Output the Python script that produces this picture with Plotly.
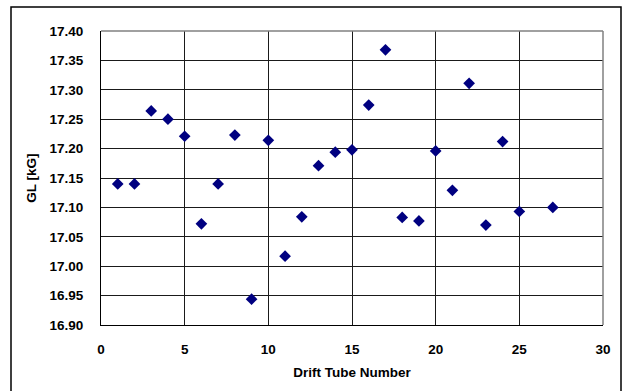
import plotly.graph_objects as go

tube_numbers = [1, 2, 3, 4, 5, 6, 7, 8, 9, 10, 11, 12, 13, 14, 15, 16, 17, 18, 19, 20, 21, 22, 23, 24, 25, 27]
gl_values = [17.140, 17.140, 17.264, 17.250, 17.221, 17.072, 17.140, 17.223, 16.944, 17.214,
             17.017, 17.084, 17.171, 17.194, 17.198, 17.274, 17.368, 17.083, 17.077, 17.196,
             17.129, 17.311, 17.070, 17.212, 17.093, 17.100]
x_ticks = [0, 5, 10, 15, 20, 25, 30]
y_ticks = [16.90, 16.95, 17.00, 17.05, 17.10, 17.15, 17.20, 17.25, 17.30, 17.35, 17.40]

font_family = "Liberation Sans, Arial, sans-serif"
fsize = 13.5

fig = go.Figure()
fig.add_trace(go.Scatter(
    x=tube_numbers, y=gl_values, mode="markers",
    marker=dict(symbol="diamond", size=9, color="#000080", line=dict(width=0)),
    showlegend=False,
))

fig.update_layout(
    width=623, height=391,
    margin=dict(l=101, r=20, t=31, b=66),
    paper_bgcolor="white", plot_bgcolor="white",
    font=dict(family=font_family, size=fsize, color="black"),
    xaxis=dict(
        range=[0, 30], tickvals=x_ticks, ticktext=[str(v) for v in x_ticks],
        showgrid=True, gridcolor="#1a1a1a", gridwidth=1,
        showline=True, linecolor="black", linewidth=1, mirror=False,
        zeroline=False, ticks="", ticklabelstandoff=12,
        tickfont=dict(family=font_family, size=fsize, color="black", weight="bold"),
        title=dict(text="<b>Drift Tube Number</b>", standoff=11,
                   font=dict(family=font_family, size=fsize, color="black")),
    ),
    yaxis=dict(
        range=[16.90, 17.40], tickvals=y_ticks, ticktext=[f"{v:.2f}" for v in y_ticks],
        showgrid=True, gridcolor="#1a1a1a", gridwidth=1,
        showline=True, linecolor="black", linewidth=1,
        zeroline=False, ticks="", ticklabelstandoff=14,
        tickfont=dict(family=font_family, size=fsize, color="black", weight="bold"),
        title=dict(text="<b>GL [kG]</b>", standoff=9,
                   font=dict(family=font_family, size=fsize, color="black")),
    ),
    shapes=[
        dict(type="line", xref="paper", yref="paper", x0=0, x1=1, y0=1, y1=1,
             line=dict(color="#808080", width=1.5)),
        dict(type="line", xref="paper", yref="paper", x0=1, x1=1, y0=0, y1=1,
             line=dict(color="#808080", width=1.5)),
        dict(type="rect", xref="paper", yref="paper",
             x0=(11 - 101) / 502, x1=(621 - 101) / 502,
             y0=(325 - 395) / 294, y1=(325 - 7) / 294,
             line=dict(color="black", width=1.5), fillcolor="rgba(0,0,0,0)", layer="below"),
    ],
)

fig.write_html("out.html", config={"displayModeBar": False},
               post_script="document.body.style.margin='0px';document.body.style.overflow='hidden';")
